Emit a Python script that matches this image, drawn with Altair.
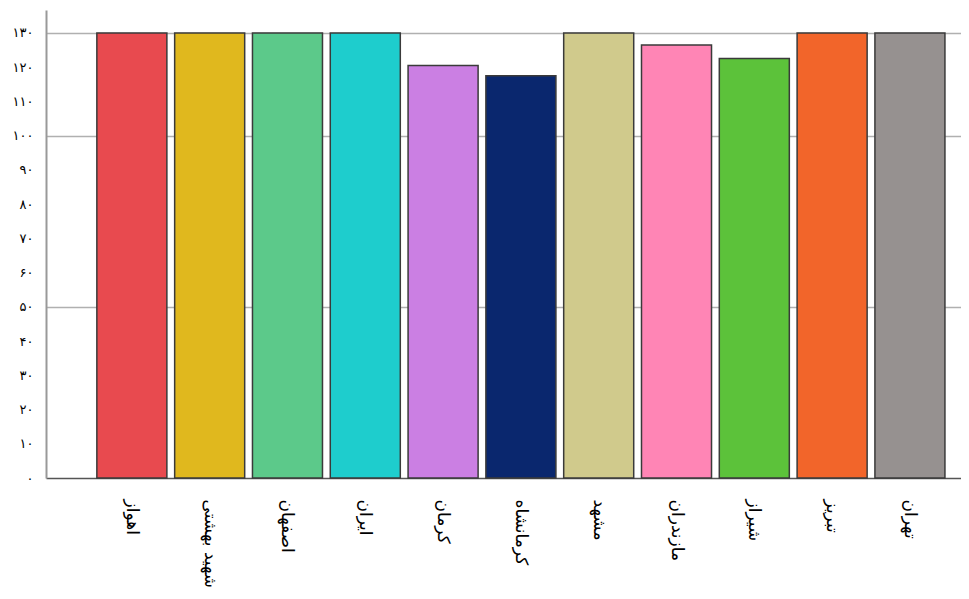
import altair as alt
import pandas as pd

cities = ["اهواز", "شهید بهشتی", "اصفهان", "ایران", "کرمان", "کرمانشاه",
          "مشهد", "مازندران", "شیراز", "تبریز", "تهران"]
values = [130, 130, 130, 130, 120.5, 117.5, 130, 126.5, 122.5, 130, 130]
colors = ["#e84a4f", "#e0b81e", "#5cc98a", "#1ecdcd", "#cb7fe3", "#0a276e",
          "#d0ca8c", "#ff85b5", "#5cc23a", "#f2652a", "#969190"]
y_ticks = list(range(0, 131, 10))
grid_values = [50, 100, 130]

df = pd.DataFrame({"city": cities, "value": values})

persian = "۰۱۲۳۴۵۶۷۸۹"
expr = "datum.label"
for i, d in enumerate(persian):
    expr = f"replace({expr}, regexp('{i}', 'g'), '{d}')"

grid_test = " || ".join(f"datum.value === {g}" for g in grid_values)

chart = alt.Chart(df).mark_bar(
    stroke="#3a3a3a", strokeWidth=1.5
).encode(
    x=alt.X("city:N", sort=None, title=None,
            scale=alt.Scale(paddingInner=0.1, paddingOuter=0.43, align=0.76),
            axis=alt.Axis(labelAngle=90, labelAlign="left", labelBaseline="middle",
                          labelPadding=21, labelFontSize=17, labelFont="DejaVu Sans",
                          labelColor="#000", labelLimit=300, ticks=False,
                          domainColor="#555", domainWidth=1.5, grid=False)),
    y=alt.Y("value:Q", title=None,
            scale=alt.Scale(domain=[0, 136.7], nice=False),
            axis=alt.Axis(values=y_ticks, labelExpr=expr, labelFontSize=13,
                          labelFont="DejaVu Sans", labelColor="#000",
                          labelPadding=13, ticks=False,
                          domainColor="#999", domainWidth=2,
                          grid=True, gridColor="#b0b0b0", gridWidth=1.5,
                          gridOpacity={"condition": {"test": grid_test, "value": 1}, "value": 0})),
    color=alt.Color("city:N", sort=None, legend=None,
                    scale=alt.Scale(domain=cities, range=colors)),
).properties(
    width=915, height=468,
    autosize=alt.AutoSizeParams(type="none"),
    padding={"left": 38, "top": 2, "right": 0, "bottom": 110},
).configure_view(stroke=None)

chart.save("out.html", embed_options={"renderer": "svg", "actions": False})
